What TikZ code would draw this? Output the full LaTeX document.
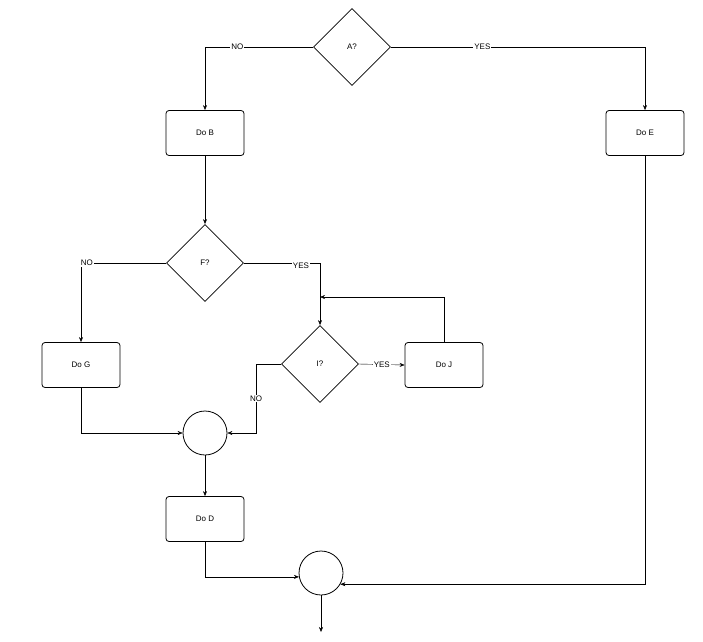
\documentclass[tikz,border=0pt]{standalone}
\usepackage{fontspec}
\setmainfont{Liberation Sans}
\usetikzlibrary{shapes.geometric,arrows.meta}
\begin{document}
\begin{tikzpicture}[x=1pt,y=-1pt,
  box/.style={draw,thick,rounded corners=3pt,minimum width=78pt,minimum height=45pt,font=\footnotesize},
  dia/.style={draw,diamond,thick,minimum width=77pt,minimum height=77pt,inner sep=0pt,font=\footnotesize},
  circ/.style={draw,circle,thick,minimum size=44pt,inner sep=0pt},
  lab/.style={fill=white,inner sep=1pt,font=\footnotesize},
  arr/.style={-{Stealth[length=5pt,width=4pt]}}]
\useasboundingbox (0,0) rectangle (703,641);
\node[dia] (A) at (352,47) {A?};
\node[box] (B) at (205,133) {Do B};
\node[box] (E) at (645,133) {Do E};
\node[dia] (F) at (205,263) {F?};
\node[box] (G) at (81,365) {Do G};
\node[dia] (I) at (320,364) {I?};
\node[box] (J) at (444,365) {Do J};
\node[circ] (C1) at (205,433) {};
\node[box] (D) at (205,519) {Do D};
\node[circ] (C2) at (321,573) {};
\coordinate (end) at (321,632);
\coordinate (loop) at (320,297);
\draw[arr] (A.west) -- node[lab,pos=0.7]{NO} (205,47) -- (B.north);
\draw[arr] (A.east) -- node[lab,pos=0.36]{YES} (645,47) -- (E.north);
\draw[arr] (B) -- (F.north);
\draw[arr] (F.west) -- (81,263) node[lab,pos=0.93]{NO} -- (G.north);
\draw[arr] (F.east) -- (320,263) node[lab,pos=0.75,yshift=-3pt]{YES} -- (I.north);
\draw[arr] (J.north) -- (444,297) -- (loop);
\draw[arr] (I.east) -- node[lab]{YES} (J.west);
\draw[arr] (I.west) -- (256,364) -- node[lab,pos=0.5]{NO} (256,433) -- (C1.east);
\draw[arr] (G.south) -- (81,433) -- (C1.west);
\draw[arr] (C1.south) -- (D.north);
\draw[arr] (D.south) |- (C2.190);
\draw[arr] (E.south) |- (C2.330);
\draw[arr] (C2.south) -- (end);
\end{tikzpicture}
\end{document}
